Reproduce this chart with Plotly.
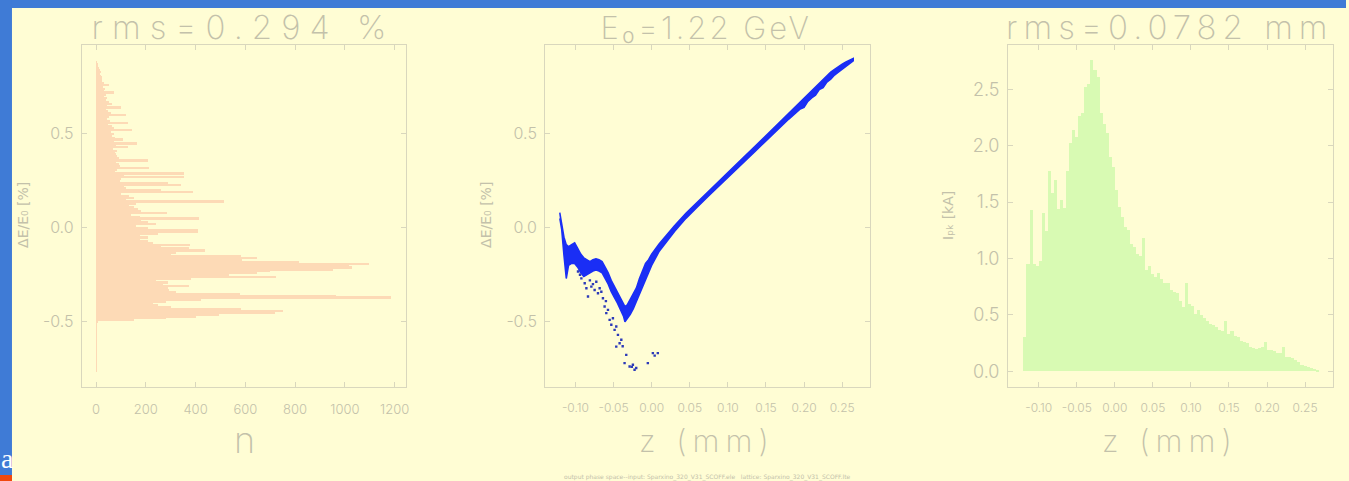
import json
import numpy as np
import plotly.graph_objects as go

# ---------------- energy-spread histogram (left panel) ----------------
# bin centres of dE/E0 [%], top to bottom, 0.01 wide
de_bins = [round(0.88 - 0.01 * i, 2) for i in range(165)]
de_counts = [
    3, 6, 8, 10, 14, 18, 15, 20, 22, 25,
    22, 30, 50, 28, 35, 30, 73, 40, 33, 45,
    38, 50, 64, 42, 98, 40, 48, 60, 118, 52,
    45, 55, 127, 48, 62, 70, 144, 58, 70, 65,
    75, 107, 72, 164, 80, 127, 68, 85, 75, 80,
    85, 90, 207, 78, 90, 95, 214, 85, 75, 354,
    110, 354, 100, 95, 287, 341, 110, 120, 262, 390,
    100, 130, 150, 120, 513, 160, 130, 150, 170, 180,
    283, 140, 175, 413, 180, 210, 240, 160, 208, 408,
    409, 247, 175, 208, 175, 207, 230, 377, 260, 374,
    439, 320, 300, 581, 648, 584, 815, 1096, 1016, 1029,
    950, 700, 648, 535, 722, 380, 240, 290, 267, 374,
    290, 294, 320, 576, 963, 1183, 420, 280, 227, 250,
    300, 581, 749, 720, 495, 400, 280, 150, 4, 3,
    2, 1, 2, 1, 1, 2, 1, 1, 2, 1,
    1, 1, 2, 1, 1, 1, 1, 2, 1, 1,
    1, 1, 1, 2, 1,
]

# ---------------- longitudinal phase space (middle panel) ----------------
z_band = [-0.1205, -0.118, -0.115, -0.112, -0.109, -0.105, -0.101, -0.097, -0.093, -0.089,
          -0.085, -0.081, -0.077, -0.073, -0.069, -0.065, -0.061, -0.057, -0.053, -0.049,
          -0.045, -0.041, -0.037, -0.035, -0.032, -0.028, -0.024, -0.020, -0.016, -0.012,
          -0.008, -0.004, 0.000, 0.010, 0.020, 0.030, 0.045, 0.060, 0.075, 0.090,
          0.105, 0.120, 0.135, 0.150, 0.165, 0.180, 0.195, 0.200, 0.205, 0.210,
          0.215, 0.220, 0.225, 0.230, 0.235, 0.240, 0.245, 0.250, 0.255, 0.260, 0.2645]
de_upper = [0.08, 0.03, -0.05, -0.09, -0.10, -0.09, -0.08, -0.11, -0.14, -0.16,
            -0.17, -0.18, -0.17, -0.165, -0.17, -0.18, -0.21, -0.24, -0.28, -0.31,
            -0.34, -0.37, -0.40, -0.42, -0.41, -0.38, -0.35, -0.32, -0.27, -0.23,
            -0.19, -0.17, -0.14, -0.085, -0.035, 0.010, 0.077, 0.137, 0.197, 0.257,
            0.317, 0.372, 0.430, 0.490, 0.552, 0.608, 0.670, 0.690, 0.712, 0.732,
            0.752, 0.772, 0.792, 0.810, 0.828, 0.843, 0.858, 0.870, 0.882, 0.892, 0.900]
de_lower = [0.05, -0.01, -0.15, -0.27, -0.20, -0.19, -0.19, -0.21, -0.24, -0.26,
            -0.25, -0.24, -0.23, -0.225, -0.23, -0.24, -0.27, -0.30, -0.34, -0.37,
            -0.40, -0.43, -0.47, -0.50, -0.48, -0.46, -0.43, -0.40, -0.36, -0.32,
            -0.27, -0.24, -0.20, -0.125, -0.07, -0.020, 0.050, 0.110, 0.170, 0.230,
            0.290, 0.345, 0.403, 0.462, 0.522, 0.578, 0.632, 0.640, 0.672, 0.690,
            0.705, 0.735, 0.745, 0.775, 0.790, 0.812, 0.828, 0.845, 0.860, 0.875, 0.888]

# isolated macro-particles below the core
z_halo = [-0.0966, -0.0940, -0.0922, -0.0878, -0.0856, -0.0835, -0.0810, -0.0791, -0.0770,
          -0.0748, -0.0726, -0.0704, -0.0682, -0.0660, -0.0639, -0.0617, -0.0600, -0.0595,
          -0.0573, -0.0551, -0.0529, -0.0508, -0.0486, -0.0464, -0.0464, -0.0442, -0.0420,
          -0.0398, -0.0380, -0.0355, -0.0333, -0.0289, -0.0260, -0.0246, -0.0224, -0.0202,
          -0.0050, 0.0016, 0.0040, 0.0081]
de_halo = [-0.233, -0.250, -0.269, -0.295, -0.322, -0.366, -0.280, -0.313, -0.300,
           -0.331, -0.287, -0.348, -0.322, -0.340, -0.375, -0.419, -0.390, -0.454,
           -0.437, -0.490, -0.516, -0.481, -0.543, -0.525, -0.632, -0.570, -0.614,
           -0.596, -0.630, -0.720, -0.676, -0.738, -0.740, -0.729, -0.755, -0.746,
           -0.720, -0.667, -0.680, -0.667]

# ---------------- current profile (right panel) ----------------
i_peak = [0.30, 0.95, 1.43, 0.95, 0.93, 0.98, 1.40, 1.24, 1.78, 1.58,
          1.70, 1.44, 1.52, 1.45, 1.78, 2.02, 2.14, 2.08, 2.26, 2.29,
          2.52, 2.55, 2.76, 2.67, 2.61, 2.29, 2.19, 2.11, 1.90, 1.81,
          1.61, 1.46, 1.37, 1.28, 1.25, 1.13, 1.10, 1.04, 1.02, 1.18,
          0.90, 0.93, 0.86, 0.84, 0.87, 0.82, 0.78, 0.78, 0.72, 0.70,
          0.69, 0.62, 0.57, 0.78, 0.60, 0.58, 0.51, 0.54, 0.50, 0.47,
          0.45, 0.42, 0.41, 0.39, 0.37, 0.36, 0.45, 0.33, 0.36, 0.31,
          0.30, 0.27, 0.26, 0.25, 0.22, 0.21, 0.20, 0.21, 0.22, 0.26,
          0.19, 0.19, 0.18, 0.16, 0.16, 0.22, 0.13, 0.13, 0.12, 0.10,
          0.08, 0.06, 0.05, 0.04, 0.03, 0.02, 0.01]
z_first_centre = -0.118
z_bin_width = 0.004
z_centres = [round(z_first_centre + z_bin_width * i, 4) for i in range(len(i_peak))]

# ---------------- tick labels ----------------
n_ticks = [0, 200, 400, 600, 800, 1000, 1200]
n_ticktext = ["0", "200", "400", "600", "800", "1000", "1200"]
de_ticks = [-0.5, 0.0, 0.5]
de_ticktext = ["-0.5", "0.0", "0.5"]
z_ticks = [-0.10, -0.05, 0.00, 0.05, 0.10, 0.15, 0.20, 0.25]
z_ticktext = ["-0.10", "-0.05", "0.00", "0.05", "0.10", "0.15", "0.20", "0.25"]
i_ticks = [0.0, 0.5, 1.0, 1.5, 2.0, 2.5]
i_ticktext = ["0.0", "0.5", "1.0", "1.5", "2.0", "2.5"]

# ---------------- styling ----------------
W, H = 1349, 481
BG = "#fffdd4"
FRAME = "#d9d7bd"
TXT = "#c3c1aa"
BLUE_EDGE = "#3f7bd6"
FONT = "Inter"


def px_x(p):
    return p / W


def px_y(p):
    return 1 - p / H


fig = go.Figure()

fig.add_trace(go.Bar(
    x=de_counts, y=de_bins, orientation="h", width=0.01,
    marker=dict(color="#fddab6", line=dict(width=0)),
    xaxis="x", yaxis="y", showlegend=False,
))

band_x = z_band + z_band[::-1]
band_y = de_upper + de_lower[::-1]
fig.add_trace(go.Scatter(
    x=band_x, y=band_y, mode="lines", fill="toself",
    fillcolor="#1a2ef5", line=dict(color="#1a2ef5", width=1.5),
    xaxis="x2", yaxis="y2", showlegend=False,
))
fig.add_trace(go.Scatter(
    x=z_halo, y=de_halo, mode="markers",
    marker=dict(color="#2c3ab8", size=2.4, symbol="square"),
    xaxis="x2", yaxis="y2", showlegend=False,
))

fig.add_trace(go.Bar(
    x=z_centres, y=i_peak, width=z_bin_width,
    marker=dict(color="#d8fab3", line=dict(width=0)),
    xaxis="x3", yaxis="y3", showlegend=False,
))

ydom = [px_y(387), px_y(45)]
panels = [
    dict(xd=[px_x(82), px_x(407)], xr=[-57, 1246], yr=[-0.847, 0.972],
         xt=(n_ticks, n_ticktext, 13), yt=(de_ticks, de_ticktext, 16)),
    dict(xd=[px_x(546.3), px_x(871.7)], xr=[-0.1398, 0.2862], yr=[-0.847, 0.972],
         xt=(z_ticks, z_ticktext, 12), yt=(de_ticks, de_ticktext, 16)),
    dict(xd=[px_x(1010.3), px_x(1335.7)], xr=[-0.1403, 0.2863], yr=[-0.139, 2.893],
         xt=(z_ticks, z_ticktext, 12), yt=(i_ticks, i_ticktext, 18)),
]

layout = dict(
    width=W, height=H, margin=dict(l=0, r=0, t=0, b=0),
    paper_bgcolor=BG, plot_bgcolor=BG, bargap=0, showlegend=False,
    font=dict(family=FONT, color=TXT),
)
for i, p in enumerate(panels, start=1):
    sfx = "" if i == 1 else str(i)
    common = dict(showgrid=False, zeroline=False, showline=True, linecolor=FRAME,
                  linewidth=1, mirror="allticks", ticks="inside", ticklen=5,
                  tickcolor=FRAME, tickwidth=1, tickmode="array")
    layout["xaxis" + sfx] = dict(
        domain=p["xd"], range=p["xr"], anchor="y" + sfx,
        tickvals=p["xt"][0], ticktext=p["xt"][1],
        tickfont=dict(family=FONT, size=p["xt"][2], color=TXT, weight=300),
        ticklabelstandoff=10, **common)
    layout["yaxis" + sfx] = dict(
        domain=ydom, range=p["yr"], anchor="x" + sfx,
        tickvals=p["yt"][0], ticktext=p["yt"][1],
        tickfont=dict(family=FONT, size=p["yt"][2], color=TXT, weight=300),
        ticklabelstandoff=4, **common)

fig.update_layout(**layout)

# large, widely tracked labels: (x px, y px, text, letter gap px, font size)
big_labels = [
    (244, 27, "rms=0.294 %", 9, 33),
    (708, 27, "E₀=1.22 GeV", 3, 31),
    (1173, 27, "rms=0.0782 mm", 6, 33),
    (245, 440, "n", 0, 36),
    (709, 440, "z (mm)", 6, 31),
    (1173, 440, "z (mm)", 6, 31),
]
letter_gaps = {}
for x, y, txt, gap, size in big_labels:
    letter_gaps[txt] = gap
    fig.add_annotation(x=px_x(x), y=px_y(y), xref="paper", yref="paper", text=txt,
                       showarrow=False, xanchor="center", yanchor="middle",
                       font=dict(family=FONT, size=size, color=TXT, weight=200))

# footnote with the run files
fig.add_annotation(x=px_x(709), y=px_y(477), xref="paper", yref="paper",
                   text="output phase space--input: Sparxino_320_V31_SCOFF.ele   lattice: Sparxino_320_V31_SCOFF.lte",
                   showarrow=False, xanchor="center", yanchor="middle",
                   font=dict(family="DejaVu Sans", size=6, color=TXT))

# rotated y-axis titles
for xc, txt in [(23, "ΔE/E₀ [%]"), (487, "ΔE/E₀ [%]"), (950, "Iₚₖ [kA]")]:
    fig.add_annotation(x=px_x(xc), y=px_y(215), xref="paper", yref="paper",
                       text=txt, textangle=-90, showarrow=False,
                       xanchor="center", yanchor="middle",
                       font=dict(family="DejaVu Sans", size=14, color=TXT))

# slide frame: blue strips at top and left, orange mark at bottom-left
fig.add_shape(type="rect", xref="paper", yref="paper", x0=0, x1=1, y0=px_y(8), y1=1,
              fillcolor=BLUE_EDGE, line=dict(width=0), layer="above")
fig.add_shape(type="rect", xref="paper", yref="paper", x0=0, x1=px_x(12), y0=0, y1=1,
              fillcolor=BLUE_EDGE, line=dict(width=0), layer="above")
fig.add_shape(type="rect", xref="paper", yref="paper", x0=0, x1=px_x(12), y0=0, y1=px_y(475),
              fillcolor="#f0480e", line=dict(width=0), layer="above")
fig.add_annotation(x=px_x(-1), y=px_y(458), xref="paper", yref="paper", text="a",
                   showarrow=False, xanchor="left", yanchor="middle",
                   font=dict(family="Liberation Serif", size=28, color="white"))

# widen the tracking of the large labels once the plot is drawn
spacing_js = """
var gd = document.getElementById('{plot_id}');
var gaps = %s;
function track() {
  document.querySelectorAll('text.annotation-text').forEach(function (t) {
    var g = gaps[t.textContent];
    if (g) { t.style.letterSpacing = g + 'px'; }
  });
}
track();
gd.on('plotly_afterplot', track);
""" % json.dumps(letter_gaps, ensure_ascii=False)

fig.write_html("out.html", post_script=spacing_js)
